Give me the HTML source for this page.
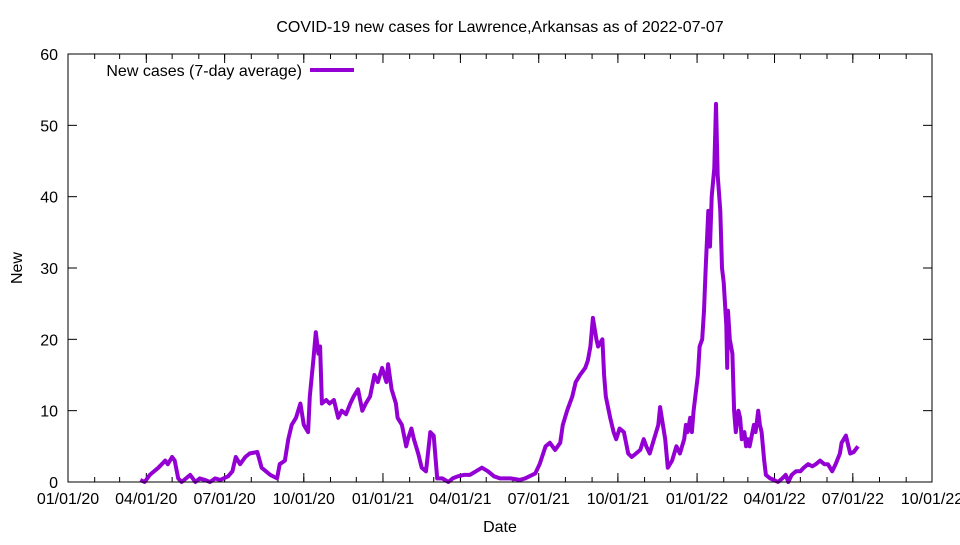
<!DOCTYPE html>
<html><head><meta charset="utf-8"><style>
body{margin:0;background:#fff}
svg text{font-family:"Liberation Sans",sans-serif;font-size:16px;fill:#000}
</style></head><body>
<svg id="chart" width="960" height="540" xmlns="http://www.w3.org/2000/svg">
<text x="500" y="32" text-anchor="middle">COVID-19 new cases for Lawrence,Arkansas as of 2022-07-07</text>
<text x="500" y="532" text-anchor="middle">Date</text>
<text x="22" y="268" text-anchor="middle" transform="rotate(-90 22 268)">New</text>
<g id="axes"></g>
<g id="series"></g>
<g>
<text x="302" y="76" text-anchor="end">New cases (7-day average)</text>
<line x1="310" y1="70" x2="354" y2="70" stroke="#9400d3" stroke-width="4"/>
</g>
<rect x="68" y="54" width="864" height="428" fill="none" stroke="#000" stroke-width="1"/>
</svg>
<script>
const yTicks=[0,10,20,30,40,50,60];
const xTickDays=[0,91,182,274,366,456,547,639,731,821,912,1004];
const xTickLabels=["01/01/20","04/01/20","07/01/20","10/01/20","01/01/21","04/01/21","07/01/21","10/01/21","01/01/22","04/01/22","07/01/22","10/01/22"];
const days=[84,89,95,105,109,113,116,121,124,128,132,142,148,153,159,165,171,177,186,191,195,200,206,211,220,225,235,243,246,252,256,260,265,270,274,279,281,285,288,291,293,295,300,304,309,314,318,323,328,332,337,342,346,351,356,360,365,370,372,376,381,383,388,393,395,399,402,407,411,416,421,425,429,435,442,447,453,460,467,474,481,488,495,502,514,525,531,543,548,555,560,566,572,575,580,586,590,595,601,604,607,610,614,616,621,623,625,630,634,637,641,646,651,655,660,665,669,672,676,681,686,688,690,694,697,702,707,711,716,718,720,723,725,727,730,732,734,737,739,741,744,746,748,751,753,755,758,760,762,765,766,767,769,772,774,776,779,781,783,786,788,790,792,797,799,802,804,806,809,811,816,820,825,830,834,837,841,846,851,855,860,865,869,874,879,883,888,892,897,899,904,909,913,918];
const values=[0.3,0,1,2,2.5,3,2.5,3.5,3,0.5,0,1,0,0.5,0.3,0,0.5,0.3,0.8,1.5,3.5,2.5,3.5,4,4.2,2,1,0.5,2.5,3,6,8,9,11,8,7,12,17,21,18,19,11,11.5,11,11.5,9,10,9.5,11,12,13,10,11,12,15,14,16,14,16.5,13,11,9,8,5,6,7.5,6,4,2,1.5,7,6.5,0.5,0.5,0,0.5,0.8,1,1,1.5,2,1.5,0.8,0.5,0.5,0.3,0.5,1.2,2.5,5,5.5,4.5,5.5,8,10,12,14,15,16,17,19,23,20,19,20,15,12,9,7,6,7.5,7,4,3.5,4,4.5,6,5,4,6,8,10.5,9,6,2,3,5,4,6,8,7,9,7,10,13,15,19,20,24,30,38,33,40,44,53,43,38,30,28,22,16,24,20,18,10,7,10,9,6,7,5,6,5,8,7,10,8,7,3,1,0.5,0.3,0,0.5,1,0,1,1.5,1.5,2,2.5,2.2,2.5,3,2.5,2.5,1.5,2.5,4,5.5,6.5,4,4.2,5];
const X0=68,X1=932,Y0=482,Y1=54;
const xs=d=>X0+d*(X1-X0)/1004;
const ys=v=>Y0-v*(Y0-Y1)/60;
const NS="http://www.w3.org/2000/svg";
const axes=document.getElementById('axes');
function mk(tag,attrs,parent){const e=document.createElementNS(NS,tag);for(const k in attrs)e.setAttribute(k,attrs[k]);parent.appendChild(e);return e;}
yTicks.forEach(v=>{
  const y=ys(v);
  const l1=mk('line',{x1:X0,x2:X0+9,y1:y,y2:y,stroke:'#000'},axes);
  
  
  const l2=mk('line',{x1:X1-9,x2:X1,y1:y,y2:y,stroke:'#000'},axes);
  
  
  const t=mk('text',{x:X0-10,y:y+6,'text-anchor':'end'},axes);t.textContent=v;
  
  
});
for(let m=0;m<=33;m++){
  const d=Math.round((Date.UTC(2020,m,1)-Date.UTC(2020,0,1))/86400000);
  const x=xs(d);
  const l=mk('line',{x1:x,x2:x,y1:Y0,y2:Y0-5,stroke:'#000'},axes);
  
  
  const l2=mk('line',{x1:x,x2:x,y1:Y1,y2:Y1+5,stroke:'#000'},axes);
  
  
}
xTickDays.forEach((d,i)=>{
  const x=xs(d);
  const l=mk('line',{x1:x,x2:x,y1:Y0,y2:Y0-9,stroke:'#000'},axes);
  
  
  const l2=mk('line',{x1:x,x2:x,y1:Y1,y2:Y1+9,stroke:'#000'},axes);
  
  
  const t=mk('text',{x:x,y:Y0+22,'text-anchor':'middle'},axes);t.textContent=xTickLabels[i];
  
  
});
const pts=days.map((d,i)=>xs(d).toFixed(1)+','+ys(values[i]).toFixed(1)).join(' ');
const pl=mk('polyline',{points:pts,fill:'none',stroke:'#9400d3','stroke-width':4,'stroke-linejoin':'round'},document.getElementById('series'));


</script>
</body></html>
